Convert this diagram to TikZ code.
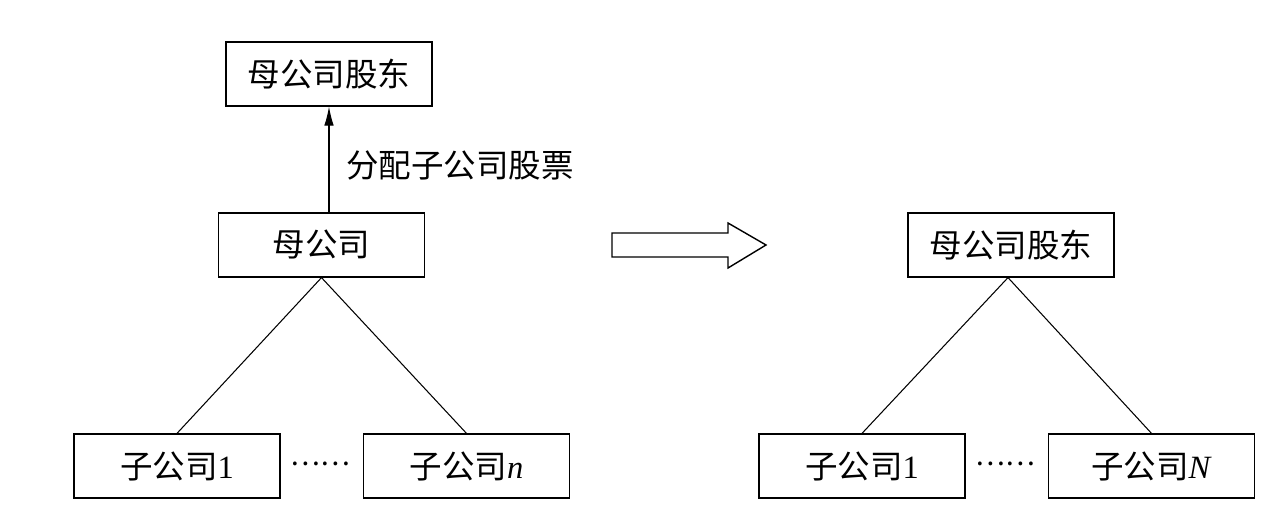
\documentclass[tikz,border=0pt]{standalone}
\usepackage{fontspec}
\setmainfont{Liberation Serif}
\newfontfamily\cjk{Noto Sans CJK SC}
\usetikzlibrary{arrows.meta}

\begin{document}
\begin{tikzpicture}[
	box/.style={draw, line width=0.7pt, minimum width=4.12cm, minimum height=1.28cm, inner sep=0pt, font=\fontsize{18.5}{22}\selectfont},
	link/.style={line width=0.6pt}
]
	\useasboundingbox (0, 0) rectangle (25.46, -10.46);
	\node[box](topL) at (6.58, -1.48){\cjk 母公司股东};
	\node[box](parL) at (6.43, -4.90){\cjk 母公司};
	\node[box](subAL) at (3.54, -9.32){\cjk 子公司\normalfont 1};
	\node[box](subBL) at (9.33, -9.32){\cjk 子公司\normalfont\textit{n}};
	\node[font=\fontsize{16}{20}\selectfont](dotsL) at (6.40, -9.28){\cjk ……};
	\draw[link, -{Latex[length=3.8mm, width=1.9mm]}] (topL.south |- parL.north) -- (topL.south);
	\node[anchor=west, font=\fontsize{18.5}{22}\selectfont](lbl) at (6.80, -3.30){\cjk 分配子公司股票};
	\draw[link] (parL.south) -- (subAL.north);
	\draw[link] (parL.south) -- (subBL.north);
	\draw[line width=0.8pt] (12.24, -4.66) -- (14.56, -4.66) -- (14.56, -4.46) -- (15.32, -4.90) -- (14.56, -5.36) -- (14.56, -5.14) -- (12.24, -5.14) -- cycle;
	\node[box](topR) at (20.22, -4.90){\cjk 母公司股东};
	\node[box](subAR) at (17.24, -9.32){\cjk 子公司\normalfont 1};
	\node[box](subBR) at (23.03, -9.32){\cjk 子公司\normalfont\textit{N}};
	\node[font=\fontsize{16}{20}\selectfont](dotsR) at (20.10, -9.28){\cjk ……};
	\draw[link] ([xshift=-0.06cm]topR.south) -- (subAR.north);
	\draw[link] ([xshift=-0.06cm]topR.south) -- (subBR.north);
\end{tikzpicture}
\end{document}
